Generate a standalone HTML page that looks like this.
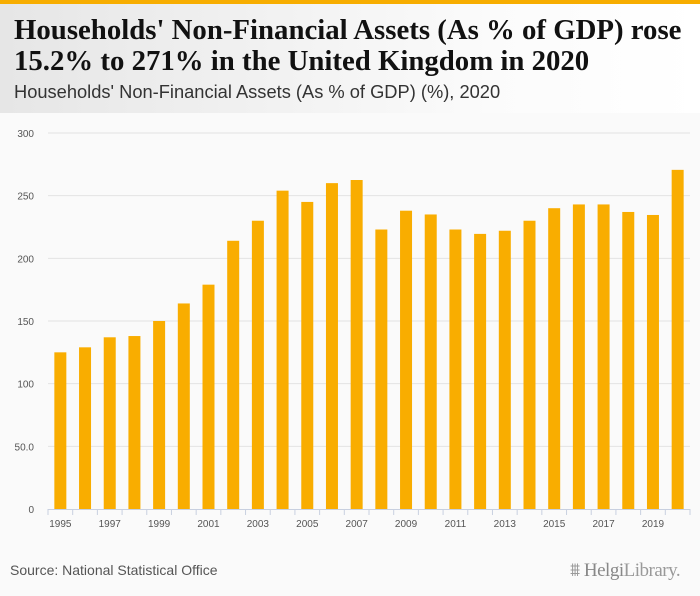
<!DOCTYPE html>
<html><head><meta charset="utf-8"><style>
body{margin:0;width:700px;height:596px;background:#fafafa;font-family:"Liberation Sans",sans-serif;overflow:hidden;position:relative}
#topbar{position:absolute;left:0;top:0;width:700px;height:4px;background:#f7ad00}
#header{position:absolute;left:0;top:4px;width:700px;height:109px;background:linear-gradient(90deg,#e6e6e6,#fbfbfb 70%,#fff)}
#title{position:absolute;left:14px;top:11px;font-family:"Liberation Serif",serif;font-weight:bold;font-size:28.8px;line-height:31px;color:#111;white-space:nowrap}
#subtitle{position:absolute;left:14px;top:77px;font-size:18.3px;color:#333;white-space:nowrap}
#source{position:absolute;left:10px;top:562px;font-size:14px;color:#555}
#logo{position:absolute;left:570px;top:560px;font-family:"Liberation Serif",serif;font-size:19px;color:#999;letter-spacing:-0.5px}
</style></head><body>
<div id="topbar"></div>
<div id="header">
<div id="title">Households' Non-Financial Assets (As % of GDP) rose<br>15.2% to 271% in the United Kingdom in 2020</div>
<div id="subtitle">Households' Non-Financial Assets (As % of GDP) (%), 2020</div>
</div>
<svg id="chart" width="700" height="596" style="position:absolute;left:0;top:0"></svg>
<div id="source">Source: National Statistical Office</div>
<div id="logo">⩩ <b style="font-weight:normal;color:#888">Helgi</b>Library.</div>
<script>
const years=[1995,1996,1997,1998,1999,2000,2001,2002,2003,2004,2005,2006,2007,2008,2009,2010,2011,2012,2013,2014,2015,2016,2017,2018,2019,2020];
const values=[125,129,137,138,150,164,179,214,230,254,245,260,262.5,223,238,235,223,219.5,222,230,240,243,243,237,234.6,270.6];
const yTicks=[0,50,100,150,200,250,300];
const yTickLabels=["0","50.0","100","150","200","250","300"];
const svg=document.getElementById('chart');
const NS='http://www.w3.org/2000/svg';
const x0=48,x1=690,yTop=133,yBot=509,yMax=300;
const band=(x1-x0)/years.length;
const ys=v=>yBot-(v/yMax)*(yBot-yTop);
const xs=i=>x0+band*i;
function mk(t,a){const e=document.createElementNS(NS,t);for(const k in a)e.setAttribute(k,a[k]);svg.appendChild(e);return e;}
yTicks.forEach((t,i)=>{
 if(t>0){const g=mk('line',{x1:x0,x2:x1,y1:ys(t),y2:ys(t),stroke:'#e3e3e3','stroke-width':1});
 
 }
 const l=mk('text',{x:34,y:ys(t)+4,'text-anchor':'end','font-size':10,fill:'#555','font-family':'Liberation Sans, sans-serif'});
 l.textContent=yTickLabels[i];
 
 
});
values.forEach((v,i)=>{
 const r=mk('rect',{x:xs(i)+band/2-6,y:ys(v),width:12,height:yBot-ys(v),fill:'#f9ad00'});
 
 
});
const ax=mk('line',{x1:x0,x2:x1,y1:yBot+0.5,y2:yBot+0.5,stroke:'#c8d0e0'});


for(let i=0;i<=years.length;i++){
 const tk=mk('line',{x1:xs(i),x2:xs(i),y1:yBot,y2:yBot+6,stroke:'#c8d0e0'});
 
 
}
years.forEach((y,i)=>{
 if(i%2===0){const t=mk('text',{x:xs(i)+band/2,y:527,'text-anchor':'middle','font-size':10,fill:'#555','font-family':'Liberation Sans, sans-serif'});
 t.textContent=y;
 
 }
});
</script>
</body></html>
